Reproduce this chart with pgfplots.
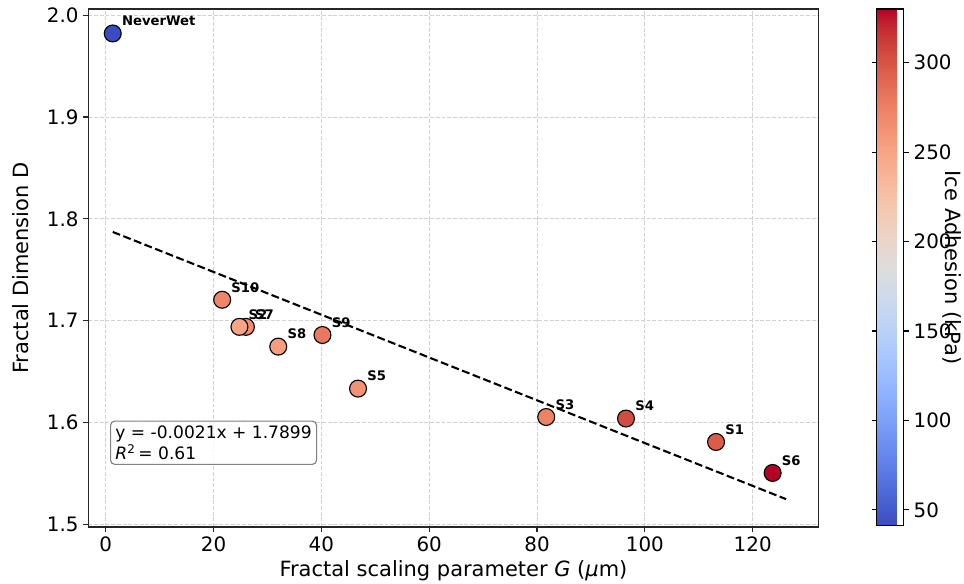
\documentclass[border=0pt]{standalone}
\usepackage{fontspec}
\setmainfont{DejaVu Sans}
\usepackage{pgfplots}
\usepackage{pgfplotstable}
\pgfplotsset{compat=1.18}

% G (um), fractal dimension D, ice adhesion (kPa), sample name
\pgfplotstableread{
G D adh name
1.3 1.982 41 NeverWet
21.6 1.7206 271 S10
26.0 1.694 266 S7
24.8 1.694 250 S2
32.0 1.6746 255 S8
40.2 1.686 280 S9
46.8 1.6334 264 S5
81.7 1.6055 274 S3
96.5 1.604 305 S4
113.2 1.581 296 S1
123.7 1.5506 330 S6
}\samples

\tikzset{
  ticklbl/.style={font=\fontsize{14.3}{16}\selectfont},
  axlbl/.style={font=\fontsize{15.1}{18}\selectfont},
}

\begin{document}
\begin{tikzpicture}
\path[use as bounding box] (0,0) rectangle (694.08pt,420.48pt);
\begin{axis}[
  at={(63.7pt,41.0pt)}, anchor=south west,
  scale only axis, width=525.6pt, height=373pt,
  xmin=-3.2, xmax=132.2, ymin=1.4975, ymax=2.006,
  xtick={0,20,40,60,80,100,120},
  ytick={1.5,1.6,1.7,1.8,1.9,2.0},
  /pgf/number format/assume math mode=true,
  yticklabel style={/pgf/number format/.cd, fixed, fixed zerofill, precision=1},
  tick label style={ticklbl},
  grid=major,
  grid style={dash pattern=on 2.8pt off 1.3pt, gray!35, line width=0.6pt},
  axis line style={line width=0.8pt, black!85},
  tick align=outside, major tick length=3.6pt,
  tick style={black!85, line width=0.8pt},
  xtick pos=bottom, ytick pos=left,
  xlabel={Fractal scaling parameter \textit{G} (\textit{μ}m)},
  ylabel={Fractal Dimension D},
  label style={axlbl},
  xlabel style={at={(axis description cs:0.5,-0.084)}, anchor=center},
  ylabel style={at={(axis description cs:-0.093,0.5)}, anchor=center},
  colormap={coolwarm}{
    rgb255=(59,76,192) rgb255=(68,90,204) rgb255=(77,104,215) rgb255=(87,117,225)
    rgb255=(98,130,234) rgb255=(108,142,241) rgb255=(119,154,247) rgb255=(130,165,251)
    rgb255=(141,176,254) rgb255=(152,185,255) rgb255=(163,194,255) rgb255=(174,201,253)
    rgb255=(184,208,249) rgb255=(194,213,244) rgb255=(204,217,238) rgb255=(213,219,230)
    rgb255=(221,221,221) rgb255=(229,216,209) rgb255=(236,211,197) rgb255=(241,204,185)
    rgb255=(245,196,173) rgb255=(247,187,160) rgb255=(247,177,148) rgb255=(247,166,135)
    rgb255=(244,154,123) rgb255=(241,141,111) rgb255=(236,127,99) rgb255=(229,112,88)
    rgb255=(222,96,77) rgb255=(213,80,66) rgb255=(203,62,56) rgb255=(192,40,47)
    rgb255=(180,4,38)},
  point meta min=41, point meta max=330,
  colorbar,
  colorbar style={
    at={(parent axis.north east)}, anchor=north west, xshift=33.5pt,
    scale only axis, width=19.4pt, height=372.2pt,
    ytick={50,100,150,200,250,300},
    /pgf/number format/assume math mode=true,
    tick label style={ticklbl},
    tick align=outside, major tick length=3.6pt,
    tick style={black, line width=0.8pt},
    axis line style={line width=0.8pt, black},
    ylabel={Ice Adhesion (kPa)},
    ylabel style={axlbl, rotate=180, at={(axis description cs:2.8,0.5)}, anchor=center},
  },
]
% trend line
\addplot[black, line width=1.5pt, dash pattern=on 5.7pt off 2.5pt]
  coordinates {(1.3,1.78717) (126.2,1.52488)};
% samples coloured by ice adhesion
\addplot[scatter, only marks, mark=*, mark size=6.1pt,
  scatter src=explicit,
  scatter/use mapped color={draw=black, fill=mapped color, line width=0.8pt}]
  table[x=G, y=D, meta=adh] {\samples};
% sample names
\addplot[only marks, mark=none, nodes near coords, point meta=explicit symbolic,
  nodes near coords style={anchor=base west, inner sep=0pt, xshift=6.5pt, yshift=5.5pt,
    font=\bfseries\fontsize{9.5}{11}\selectfont, text=black}]
  table[x=G, y=D, meta=name] {\samples};
\node[draw=gray, line width=0.8pt, rounded corners=3pt, fill=white, fill opacity=0.8,
  text opacity=1, anchor=south west, align=left, inner sep=3.5pt,
  font=\fontsize{12.3}{14.8}\selectfont]
  at (rel axis cs:0.0295,0.12) {y = -0.0021x + 1.7899\\\textit{R}\textsuperscript{2}\,= 0.61};
\end{axis}
\end{tikzpicture}
\end{document}
